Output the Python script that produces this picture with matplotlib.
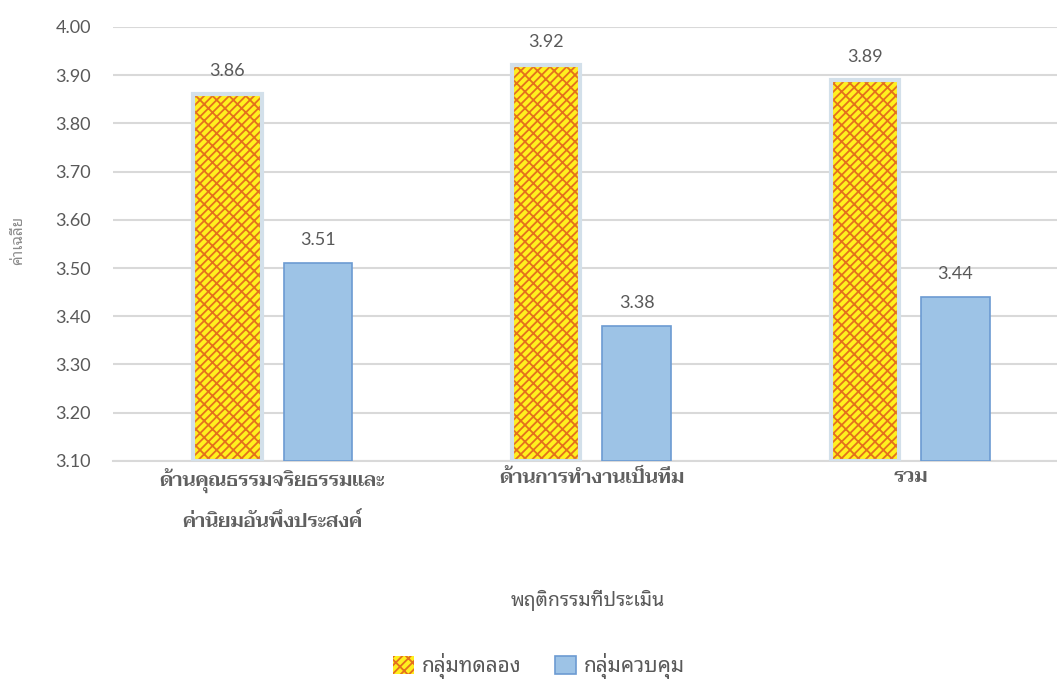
import matplotlib
matplotlib.use("Agg")
import matplotlib.pyplot as plt
import numpy as np

categories = ["ด้านคุณธรรมจริยธรรมและ\nค่านิยมอันพึงประสงค์", "ด้านการทำงานเป็นทีม", "รวม"]
experimental = [3.86, 3.92, 3.89]
control = [3.51, 3.38, 3.44]
series_names = ["กลุ่มทดลอง", "กลุ่มควบคุม"]
yticks = [3.10, 3.20, 3.30, 3.40, 3.50, 3.60, 3.70, 3.80, 3.90, 4.00]

THAI_SANS = ["Noto Sans Thai Looped", "DejaVu Sans"]
NUM = ["Lato", "DejaVu Sans"]
THAI_BOLD = ["Taviraj", "DejaVu Sans"]
GRAY = "#595959"

plt.rcParams["hatch.color"] = "#e4701c"
plt.rcParams["hatch.linewidth"] = 1.3

fig = plt.figure(figsize=(10.57, 6.90), dpi=100)
ax = fig.add_axes([0.107, 0.332, 1.012 - 0.107, 0.961 - 0.332])

x = np.arange(len(categories))
w = 0.215
off = 0.142

# experimental: yellow with orange brick-like hatch, light bluish border
b1 = ax.bar(x - off, np.array(experimental) - 3.10, w, bottom=3.10, color="#fff01e",
            hatch="////\\\\", linewidth=0, zorder=3, label=series_names[0])
ax.bar(x - off, np.array(experimental) - 3.10, w, bottom=3.10, fill=False,
       edgecolor="#d3e0ea", linewidth=3, zorder=4)
b2 = ax.bar(x + off, np.array(control) - 3.10, w, bottom=3.10, color="#9dc3e6",
            edgecolor="#6c9bd2", linewidth=1.2, zorder=3, label=series_names[1])

for xi, v in zip(x - off, experimental):
    ax.annotate(f"{v:.2f}", (xi, v), xytext=(0, 11), textcoords="offset points",
                ha="center", va="bottom", fontsize=13, color=GRAY, family=NUM)
for xi, v in zip(x + off, control):
    ax.annotate(f"{v:.2f}", (xi, v), xytext=(0, 11), textcoords="offset points",
                ha="center", va="bottom", fontsize=13, color=GRAY, family=NUM)

ax.set_ylim(3.10, 4.00)
ax.set_xlim(-0.5, 2.5)
ax.set_yticks(yticks)
ax.set_yticklabels([f"{t:.2f}" for t in yticks], family=NUM, fontsize=13, color=GRAY)
ax.tick_params(axis="y", length=0, pad=16)
ax.set_xticks(x)
ax.set_xticklabels(categories, family=THAI_BOLD, fontweight="semibold", fontsize=14,
                   color="#606060", linespacing=2.2)
ax.tick_params(axis="x", length=0, pad=6)
ax.grid(axis="y", color="#d9d9d9", linewidth=1.5, zorder=0)
ax.set_axisbelow(True)
for s in ["top", "right", "left"]:
    ax.spines[s].set_visible(False)
ax.spines["bottom"].set_color("#d9d9d9")
ax.spines["bottom"].set_linewidth(1.5)

fig.text(0.556, 1 - 600 / 690, "พฤติกรรมที่ประเมิน", ha="center", va="center",
         family=THAI_SANS, fontsize=14, color=GRAY)
fig.text(0.018, 1 - 240 / 690, "ค่าเฉลี่ย", ha="center", va="center", rotation=90,
         family=THAI_SANS, fontsize=11, color="#8c8c8c")

leg = fig.legend([b1, b2], series_names, loc="center", bbox_to_anchor=(0.51, 1 - 666 / 690),
                 ncol=2, frameon=False, prop={"family": THAI_SANS, "size": 15},
                 handlelength=1.0, handleheight=1.0, handletextpad=0.4, columnspacing=1.6)
for t in leg.get_texts():
    t.set_color(GRAY)

fig.savefig("out.png", dpi=100)
